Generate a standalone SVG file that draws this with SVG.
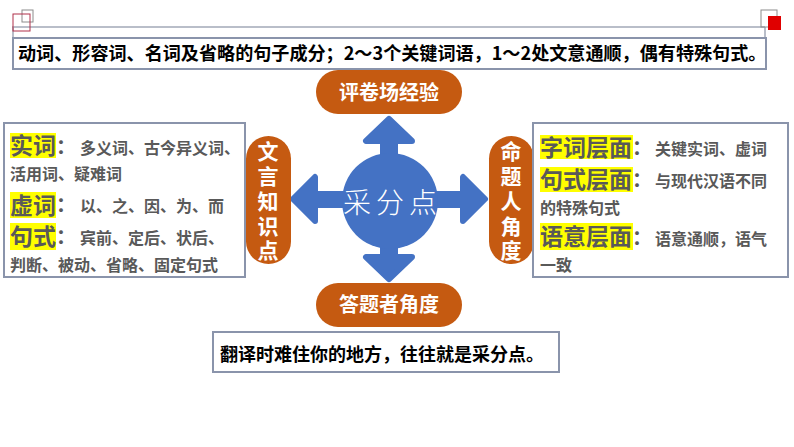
<svg xmlns="http://www.w3.org/2000/svg" width="794" height="447" viewBox="0 0 794 447">
<style>
.box{fill:#fff;stroke:#8a94ab;stroke-width:2}
.pill{fill:#c55a11}
.pt{font-family:"Noto Sans CJK SC","Noto Sans",sans-serif;font-weight:bold;fill:#fff}
.vt{font-size:21px;writing-mode:vertical-rl;letter-spacing:3.75px}
.bk{font-family:"Noto Sans CJK SC","Noto Sans",sans-serif;font-weight:bold;fill:#000}
.gr{font-family:"Noto Sans CJK SC","Noto Sans",sans-serif;font-weight:bold;fill:#595959}
.hl{fill:#ffff00}
.big{font-size:23px}
.sm{font-size:16px}
.arr{fill:#4472c4;stroke:#4472c4;stroke-width:6;stroke-linejoin:round}
.deco{fill:none;stroke:#a3a9b8;stroke-width:1.5}
</style>
<rect width="794" height="447" fill="#fff"/>
<g id="decoration">
<path class="deco" d="M12 27H765M13 27V38M765 27V38"/>
<rect x="22" y="10" width="11" height="12" fill="none" stroke="#8c8c8c" stroke-width="1"/>
<rect x="13" y="14" width="17" height="17" fill="none" stroke="#b0304a" stroke-width="1"/>
<rect x="761" y="10" width="16" height="17" fill="none" stroke="#8c8c8c" stroke-width="1"/>
<rect x="768" y="16" width="13" height="14" fill="#e00000"/>
</g>
<g id="top-note">
<rect class="box" x="13" y="38" width="753" height="31"/>
<text class="bk" x="18" y="60" font-size="18.1">动词、形容词、名词及省略的句子成分；2～3个关键词语，1～2处文意通顺，偶有特殊句式。</text>
</g>
<g id="connectors">
<rect x="310" y="191" width="158" height="17" fill="#4472c4"/>
<rect x="380" y="138" width="18" height="124" fill="#4472c4"/>
<polygon class="arr" points="389,119 366,141 412,141"/>
<polygon class="arr" points="389,279 366,257 412,257"/>
<polygon class="arr" points="293,199 315,177 315,221"/>
<polygon class="arr" points="485,199 463,177 463,221"/>
</g>
<g id="center">
<circle cx="390" cy="201" r="48" fill="#4472c4"/>
<text x="343 376 409" y="213" font-family="Noto Sans CJK SC,sans-serif" font-weight="300" font-size="28" fill="#fff">采分点</text>
</g>
<g id="node-top">
<rect class="pill" x="316" y="70" width="146" height="44" rx="22"/>
<text class="pt" x="389" y="100" font-size="20" text-anchor="middle">评卷场经验</text>
</g>
<g id="node-bottom">
<rect class="pill" x="316" y="283" width="146" height="44" rx="22"/>
<text class="pt" x="389" y="312" font-size="20" text-anchor="middle">答题者角度</text>
</g>
<g id="node-left">
<rect class="pill" x="246" y="136" width="45" height="128" rx="22.5"/>
<text class="pt vt" x="268" y="141">文言知识点</text>
</g>
<g id="node-right">
<rect class="pill" x="489" y="136" width="45" height="128" rx="22.5"/>
<text class="pt vt" x="511" y="141">命题人角度</text>
</g>
<g id="left-box">
<rect class="box" x="4" y="123" width="241" height="154"/>
<rect class="hl" x="10" y="133" width="46" height="25"/>
<rect class="hl" x="10" y="192" width="46" height="26"/>
<rect class="hl" x="10" y="223" width="46" height="27"/>
<text class="gr big" x="10" y="154">实词</text>
<text class="gr" x="56" y="154" font-size="20">：</text>
<text class="gr sm" x="80" y="154">多义词、古今异义词、</text>
<text class="gr sm" x="10" y="180">活用词、疑难词</text>
<text class="gr big" x="10" y="214">虚词</text>
<text class="gr" x="56" y="212" font-size="20">：</text>
<text class="gr sm" x="80" y="212">以、之、因、为、而</text>
<text class="gr big" x="10" y="245">句式</text>
<text class="gr" x="56" y="244" font-size="20">：</text>
<text class="gr sm" x="80" y="244">宾前、定后、状后、</text>
<text class="gr sm" x="10" y="271">判断、被动、省略、固定句式</text>
</g>
<g id="right-box">
<rect class="box" x="533" y="123" width="255" height="154"/>
<rect class="hl" x="540" y="135" width="93" height="24"/>
<rect class="hl" x="540" y="167" width="93" height="25"/>
<rect class="hl" x="540" y="223" width="93" height="27"/>
<text class="gr big" x="540" y="156">字词层面</text>
<text class="gr" x="632" y="155" font-size="20">：</text>
<text class="gr sm" x="655" y="155">关键实词、虚词</text>
<text class="gr big" x="540" y="188">句式层面</text>
<text class="gr" x="632" y="187" font-size="20">：</text>
<text class="gr sm" x="655" y="187">与现代汉语不同</text>
<text class="gr sm" x="540" y="214">的特殊句式</text>
<text class="gr big" x="540" y="245">语意层面</text>
<text class="gr" x="632" y="245" font-size="20">：</text>
<text class="gr sm" x="655" y="245">语意通顺，语气</text>
<text class="gr sm" x="540" y="271">一致</text>
</g>
<g id="bottom-note">
<rect class="box" x="213" y="332" width="346" height="40"/>
<text class="bk" x="220" y="361" font-size="18">翻译时难住你的地方，往往就是采分点。</text>
</g>
</svg>
